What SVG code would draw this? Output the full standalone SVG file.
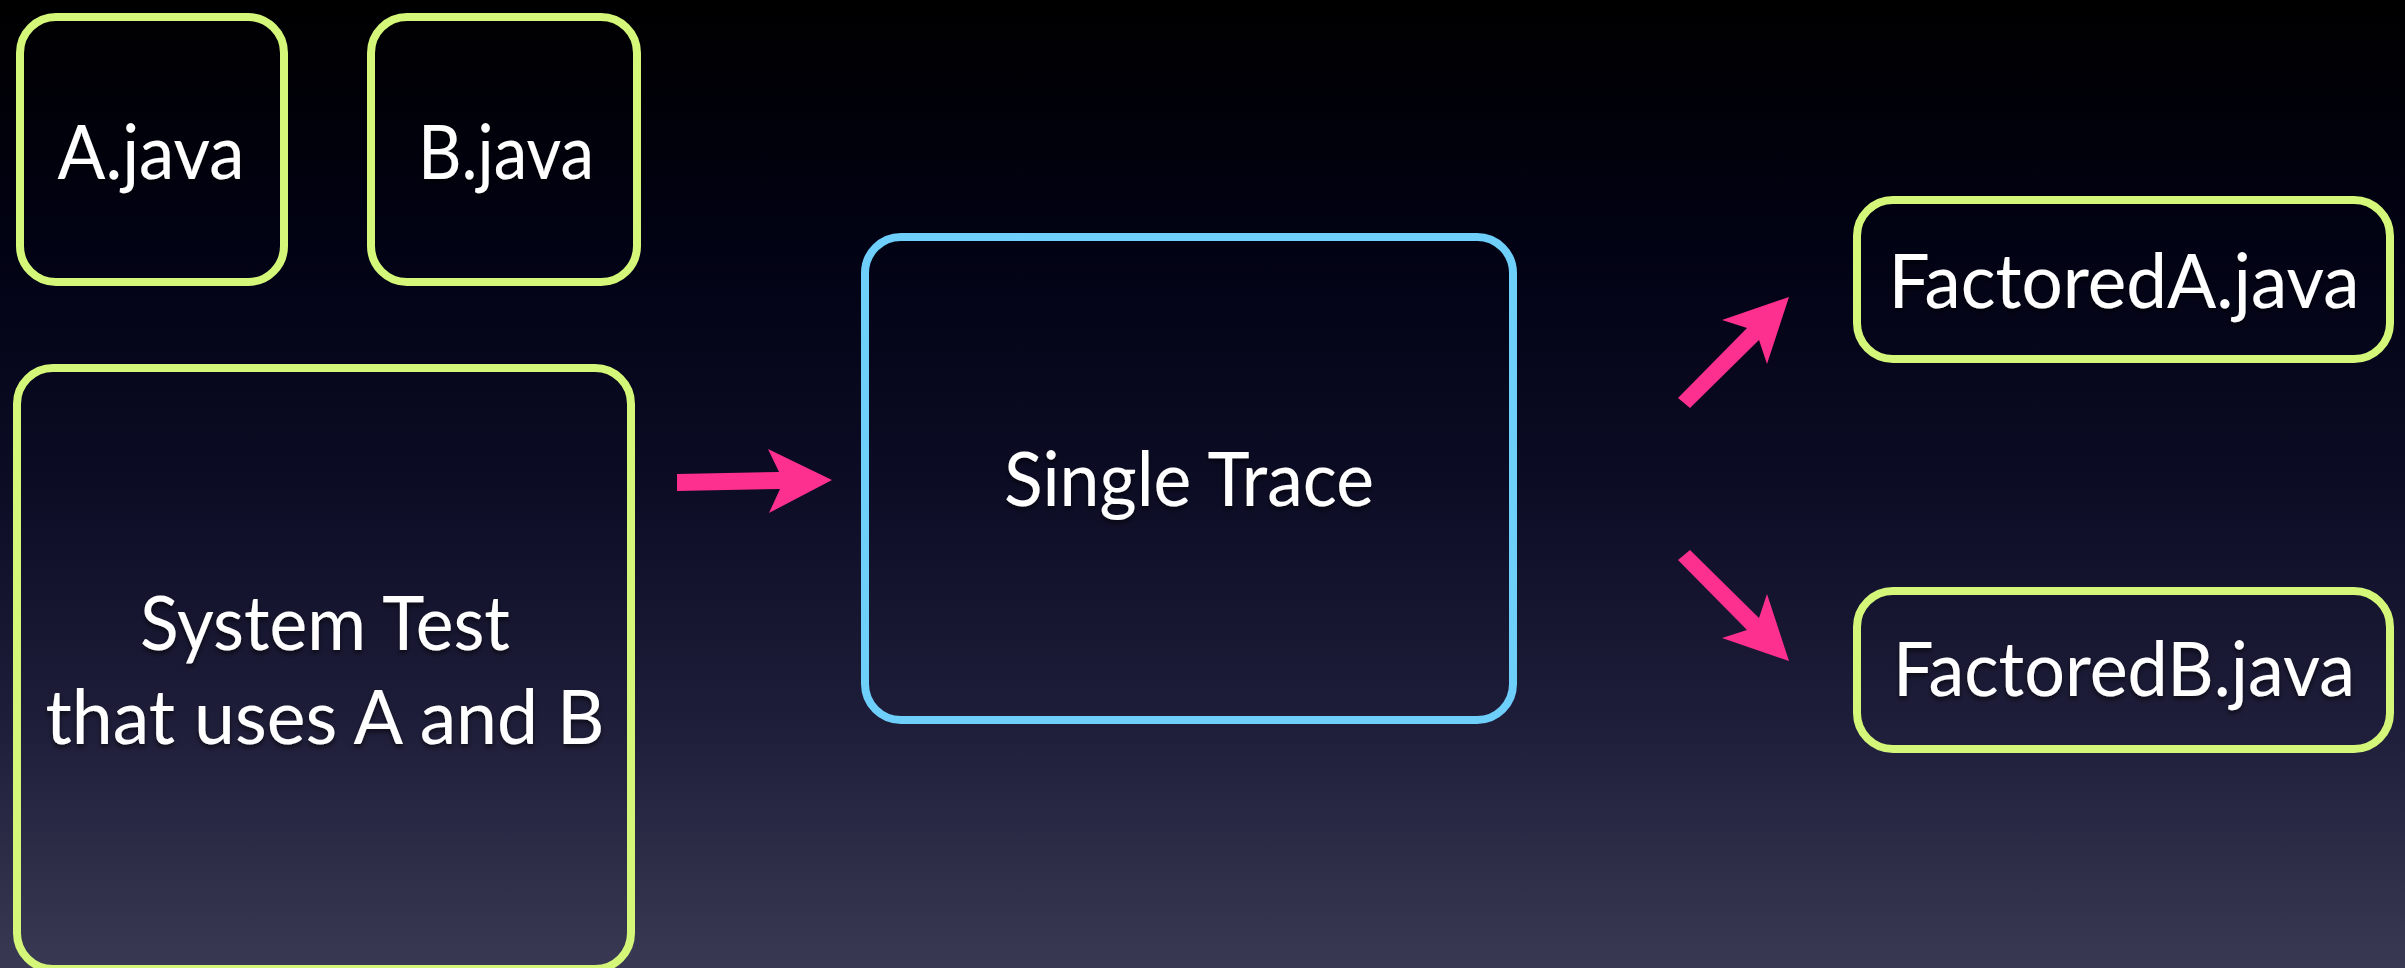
<svg xmlns="http://www.w3.org/2000/svg" width="2405" height="968" viewBox="0 0 2405 968">
  <defs>
    <linearGradient id="bg" x1="0" y1="0" x2="0" y2="1">
      <stop offset="0" stop-color="#000000"/>
      <stop offset="0.25" stop-color="#010213"/>
      <stop offset="0.5" stop-color="#0c0c25"/>
      <stop offset="0.75" stop-color="#1f1e3a"/>
      <stop offset="1" stop-color="#3a3953"/>
    </linearGradient>
    <filter id="shadow" x="-10%" y="-20%" width="120%" height="150%">
      <feDropShadow dx="0" dy="3" stdDeviation="2.5" flood-color="#000000" flood-opacity="0.6"/>
    </filter>
    <style>
      .box { fill: none; stroke-width: 8; }
      .green { stroke: #d4f77a; }
      .blue { stroke: #6fcffb; }
      .label { fill: #ffffff; font-family: Lato, "Open Sans", "Liberation Sans", sans-serif; font-size: 76px; text-anchor: middle; filter: url(#shadow); }
      .arrow { fill: #fd2f8f; stroke: none; }
    </style>
  </defs>

  <!-- slide background -->
  <rect x="0" y="0" width="2405" height="968" fill="url(#bg)"/>

  <g id="node-a-java">
    <rect class="box green" x="20" y="17" width="264" height="265" rx="36" ry="36"/>
    <text class="label" x="151" y="179" textLength="187" lengthAdjust="spacingAndGlyphs">A.java</text>
  </g>

  <g id="node-b-java">
    <rect class="box green" x="371" y="17" width="266" height="265" rx="36" ry="36"/>
    <text class="label" x="506" y="179" textLength="176" lengthAdjust="spacingAndGlyphs">B.java</text>
  </g>

  <g id="node-system-test">
    <rect class="box green" x="17" y="368" width="614" height="601" rx="36" ry="36"/>
    <text class="label" x="325" y="650" textLength="370" lengthAdjust="spacingAndGlyphs">System Test</text>
    <text class="label" x="325" y="744" textLength="559" lengthAdjust="spacingAndGlyphs">that uses A and B</text>
  </g>

  <g id="node-single-trace">
    <rect class="box blue" x="865" y="237" width="648" height="483" rx="36" ry="36"/>
    <text class="label" x="1189" y="506" textLength="370" lengthAdjust="spacingAndGlyphs">Single Trace</text>
  </g>

  <g id="node-factored-a">
    <rect class="box green" x="1857" y="200" width="533" height="159" rx="36" ry="36"/>
    <text class="label" x="2124" y="308" textLength="471" lengthAdjust="spacingAndGlyphs">FactoredA.java</text>
  </g>

  <g id="node-factored-b">
    <rect class="box green" x="1857" y="591" width="533" height="158" rx="36" ry="36"/>
    <text class="label" x="2124" y="696" textLength="462" lengthAdjust="spacingAndGlyphs">FactoredB.java</text>
  </g>

  <g id="connectors">
    <polygon class="arrow" points="677,474 779,472 768,449 832,480 769,513 780,489 677,491"/>
    <polygon class="arrow" points="1690,408 1759,340 1767,364 1789,297 1722,320 1747,328 1678,398"/>
    <polygon class="arrow" points="1690,550 1759,618 1767,594 1789,661 1722,638 1747,630 1678,560"/>
  </g>
</svg>
